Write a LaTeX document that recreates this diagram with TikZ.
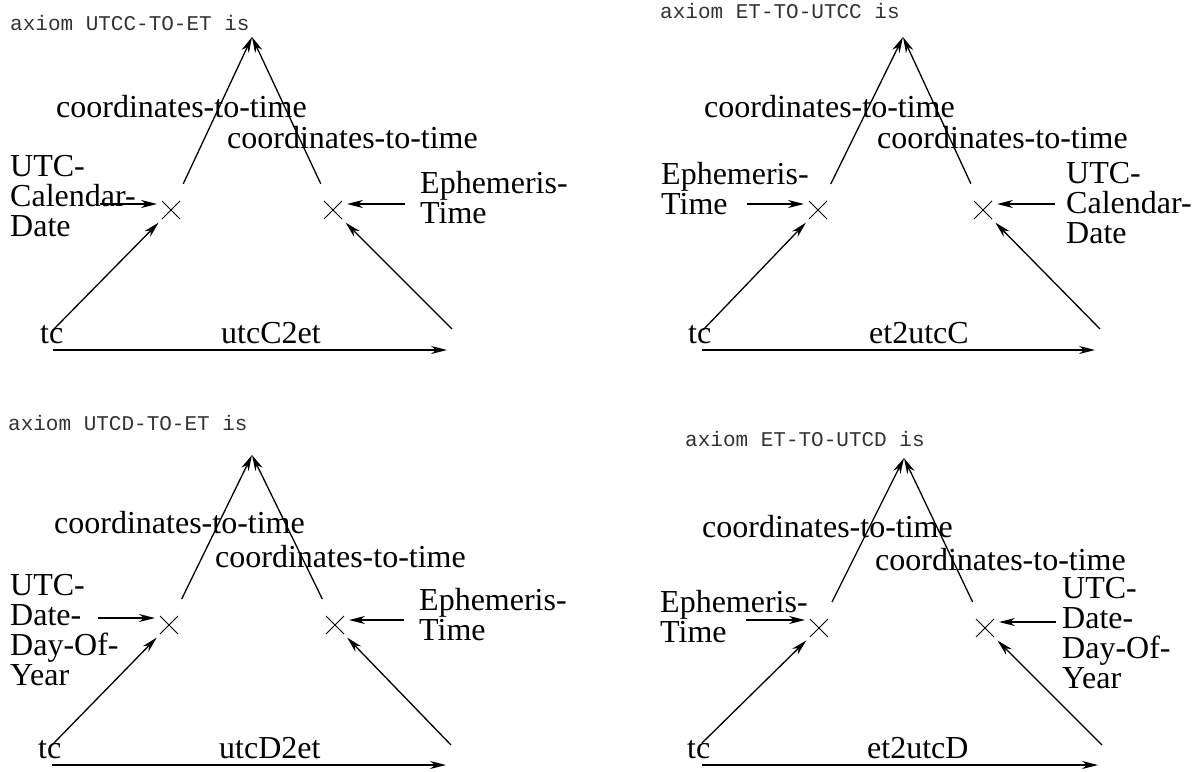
\documentclass[tikz,border=0pt]{standalone}
\usepackage{fontspec}
\setmainfont{Liberation Serif}
\newfontfamily\axiomfont{Liberation Mono}
\usetikzlibrary{arrows.meta,shapes.misc}
\tikzset{
  axiomtitle/.style={anchor=base west, inner sep=0pt, text=black!80,
    font=\axiomfont\fontsize{21}{21}\selectfont},
  sortlabel/.style={anchor=base west, inner sep=0pt, align=left,
    font=\fontsize{32}{30}\selectfont},
  crossmark/.style={cross out, draw, minimum size=18pt, inner sep=0pt,
    outer sep=0pt, line width=1pt},
  feed/.style={-{Stealth[length=16pt,width=8pt,inset=5pt]}, line width=1.3pt},
  tocross/.style={feed, shorten >=5pt}
}
\begin{document}
\begin{tikzpicture}[x=1pt,y=-1pt]
  \useasboundingbox (0,0) rectangle (1199,771);
  % UTCC-TO-ET
  \node[axiomtitle] (ax1) at (10,30) {axiom UTCC-TO-ET is};
  \coordinate (top1) at (252,37);
  \node[crossmark] (xl1) at (171,210) {};
  \node[crossmark] (xr1) at (333,210) {};
  \node[sortlabel] (ctt1) at (56,117) {coordinates-to-time};
  \node[sortlabel] (ctt1b) at (227,148) {coordinates-to-time};
  \node[sortlabel] (utcc1) at (10,236) {UTC-\\Calendar-\\Date};
  \node[sortlabel] (et1) at (420,223) {Ephemeris-\\Time};
  \node[sortlabel] (tc1) at (40,343) {tc};
  \node[sortlabel] (fn1) at (221,343) {utcC2et};
  \coordinate (bl1) at (53,330);
  \coordinate (br1) at (452,329);
  \coordinate (bs1) at (53,350);
  \coordinate (be1) at (447,350);
  \coordinate (inl1) at (100,204);
  \coordinate (inr1) at (405,204);
  \draw[feed, shorten <=19pt] (xl1) -- (top1);
  \draw[feed, shorten <=19pt] (xr1) -- (top1);
  \draw[tocross] (inl1) -- (inl1 -| xl1.west);
  \draw[tocross] (inr1) -- (inr1 -| xr1.east);
  \draw[tocross] (bl1) -- (xl1);
  \draw[tocross] (br1) -- (xr1);
  \draw[feed] (bs1) -- (be1);
  % ET-TO-UTCC
  \node[axiomtitle] (ax2) at (660,18) {axiom ET-TO-UTCC is};
  \coordinate (top2) at (903,37);
  \node[crossmark] (xl2) at (818,210) {};
  \node[crossmark] (xr2) at (983,210) {};
  \node[sortlabel] (ctt2) at (704,117) {coordinates-to-time};
  \node[sortlabel] (ctt2b) at (877,148) {coordinates-to-time};
  \node[sortlabel] (et2) at (661,214) {Ephemeris-\\Time};
  \node[sortlabel] (utcc2) at (1066,243) {UTC-\\Calendar-\\Date};
  \node[sortlabel] (tc2) at (688,343) {tc};
  \node[sortlabel] (fn2) at (869,343) {et2utcC};
  \coordinate (bl2) at (703,330);
  \coordinate (br2) at (1100,329);
  \coordinate (bs2) at (702,350);
  \coordinate (be2) at (1095,350);
  \coordinate (inl2) at (747,204);
  \coordinate (inr2) at (1055,204);
  \draw[feed, shorten <=19pt] (xl2) -- (top2);
  \draw[feed, shorten <=19pt] (xr2) -- (top2);
  \draw[tocross] (inl2) -- (inl2 -| xl2.west);
  \draw[tocross] (inr2) -- (inr2 -| xr2.east);
  \draw[tocross] (bl2) -- (xl2);
  \draw[tocross] (br2) -- (xr2);
  \draw[feed] (bs2) -- (be2);
  % UTCD-TO-ET
  \node[axiomtitle] (ax3) at (8,430) {axiom UTCD-TO-ET is};
  \coordinate (top3) at (252,455);
  \node[crossmark] (xl3) at (169,625) {};
  \node[crossmark] (xr3) at (335,625) {};
  \node[sortlabel] (ctt3) at (54,533) {coordinates-to-time};
  \node[sortlabel] (ctt3b) at (215,567) {coordinates-to-time};
  \node[sortlabel] (utcd3) at (10,685) {UTC-\\Date-\\Day-Of-\\Year};
  \node[sortlabel] (et3) at (419,640) {Ephemeris-\\Time};
  \node[sortlabel] (tc3) at (38,758) {tc};
  \node[sortlabel] (fn3) at (219,758) {utcD2et};
  \coordinate (bl3) at (52,745);
  \coordinate (br3) at (451,745);
  \coordinate (bs3) at (52,765);
  \coordinate (be3) at (446,765);
  \coordinate (inl3) at (98,618);
  \coordinate (inr3) at (404,620);
  \draw[feed, shorten <=19pt] (xl3) -- (top3);
  \draw[feed, shorten <=19pt] (xr3) -- (top3);
  \draw[tocross] (inl3) -- (inl3 -| xl3.west);
  \draw[tocross] (inr3) -- (inr3 -| xr3.east);
  \draw[tocross] (bl3) -- (xl3);
  \draw[tocross] (br3) -- (xr3);
  \draw[feed] (bs3) -- (be3);
  % ET-TO-UTCD
  \node[axiomtitle] (ax4) at (685,446) {axiom ET-TO-UTCD is};
  \coordinate (top4) at (904,458);
  \node[crossmark] (xl4) at (819,628) {};
  \node[crossmark] (xr4) at (985,628) {};
  \node[sortlabel] (ctt4) at (702,537) {coordinates-to-time};
  \node[sortlabel] (ctt4b) at (875,570) {coordinates-to-time};
  \node[sortlabel] (et4) at (660,642) {Ephemeris-\\Time};
  \node[sortlabel] (utcd4) at (1062,688) {UTC-\\Date-\\Day-Of-\\Year};
  \node[sortlabel] (tc4) at (687,758) {tc};
  \node[sortlabel] (fn4) at (867,758) {et2utcD};
  \coordinate (bl4) at (702,743);
  \coordinate (br4) at (1102,745);
  \coordinate (bs4) at (702,765);
  \coordinate (be4) at (1098,765);
  \coordinate (inl4) at (746,620);
  \coordinate (inr4) at (1056,622);
  \draw[feed, shorten <=19pt] (xl4) -- (top4);
  \draw[feed, shorten <=19pt] (xr4) -- (top4);
  \draw[tocross] (inl4) -- (inl4 -| xl4.west);
  \draw[tocross] (inr4) -- (inr4 -| xr4.east);
  \draw[tocross] (bl4) -- (xl4);
  \draw[tocross] (br4) -- (xr4);
  \draw[feed] (bs4) -- (be4);
\end{tikzpicture}
\end{document}
